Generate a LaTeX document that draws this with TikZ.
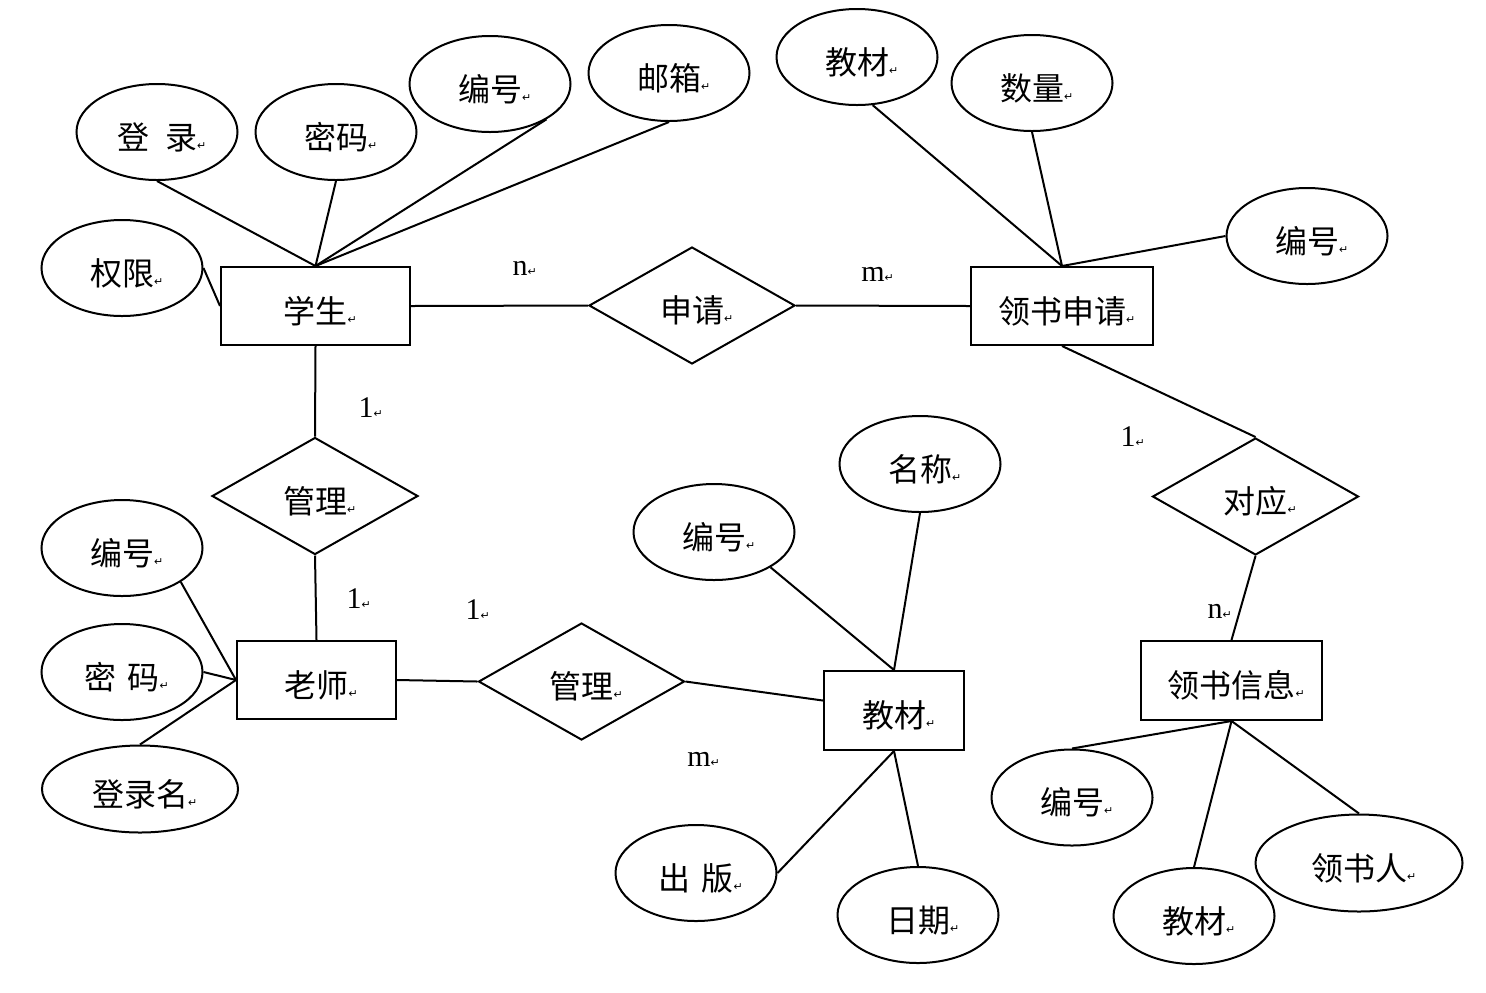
\documentclass[tikz,border=0pt]{standalone}
\usepackage{fontspec}
\newfontfamily\cjk{Noto Sans CJK SC}
\newfontfamily\dejavu{DejaVu Sans}
\newfontfamily\tms{Liberation Serif}
\usetikzlibrary{shapes.geometric}
\newcommand{\retmark}{{\dejavu\fontsize{5.5}{5.5}\selectfont ↵}}
\newcommand{\zh}[1]{\raisebox{-8.5pt}[0pt][0pt]{#1\rlap{\retmark}}}
\newcommand{\cardtext}[1]{#1\rlap{\retmark}}
\tikzset{
  zhfont/.style={font=\cjk\fontsize{16}{16}\selectfont},
  attr/.style={ellipse, draw, minimum width=80.5pt, minimum height=48pt, inner sep=0pt, zhfont},
  ent/.style={rectangle, draw, minimum height=39pt, inner sep=0pt, zhfont},
  rel/.style={diamond, draw, aspect=1.76, minimum width=103pt, minimum height=58.5pt, inner sep=0pt, zhfont},
  card/.style={font=\tms\fontsize{15}{15}\selectfont, inner sep=0pt}
}
\begin{document}
\begin{tikzpicture}[x=0.5pt, y=-0.5pt, line width=1pt]
\useasboundingbox (0,0) rectangle (1486,992);
% entities
\node[ent, minimum width=94.5pt] (stu) at (315.5,306) {\zh{学生}};
\node[ent, minimum width=91pt] (lsq) at (1062,306) {\zh{领书申请}};
\node[ent, minimum width=79.5pt] (tea) at (316.5,680) {\zh{老师}};
\node[ent, minimum width=70pt, minimum height=39.5pt] (jc) at (894,710.5) {\zh{教材}};
\node[ent, minimum width=90.5pt, minimum height=39.5pt] (lsx) at (1231.5,680.5) {\zh{领书信息}};
% relations
\node[rel] (sq) at (692,305.5) {\zh{申请}};
\node[rel] (gl1) at (315,496) {\zh{管理}};
\node[rel] (gl2) at (581.5,681.5) {\zh{管理}};
\node[rel] (dy) at (1255.5,496.5) {\zh{对应}};
% attributes of student
\node[attr] (deng) at (157,132) {\zh{登\hspace{0.5em}录}};
\node[attr] (mima1) at (336,132) {\zh{密码}};
\node[attr] (bh1) at (490,84) {\zh{编号}};
\node[attr] (youxiang) at (669,73) {\zh{邮箱}};
\node[attr] (quanxian) at (122,268) {\zh{权限}};
% attributes of application
\node[attr] (jc1) at (857,57) {\zh{教材}};
\node[attr] (sl) at (1032,83) {\zh{数量}};
\node[attr] (bh2) at (1307,236) {\zh{编号}};
% attributes of teacher
\node[attr] (bh3) at (122,548) {\zh{编号}};
\node[attr] (mima2) at (122,672) {\zh{密\hspace{0.35em}码}};
\node[attr, minimum width=98pt, minimum height=43.5pt] (dlm) at (140,789) {\zh{登录名}};
% attributes of textbook
\node[attr] (bh4) at (714,532) {\zh{编号}};
\node[attr] (mc) at (920,464) {\zh{名称}};
\node[attr] (cb) at (696,873) {\zh{出\hspace{0.35em}版}};
\node[attr] (rq) at (918,915) {\zh{日期}};
% attributes of info
\node[attr] (bh5) at (1072,797.5) {\zh{编号}};
\node[attr] (jc2) at (1194,916) {\zh{教材}};
\node[attr, minimum width=103.5pt, minimum height=48.5pt] (lsr) at (1359,863) {\zh{领书人}};
% cardinalities
\node[card] (c1) at (520,268) {\cardtext{n}};
\node[card] (c2) at (873,274) {\cardtext{m}};
\node[card] (c3) at (366,408) {\cardtext{1}};
\node[card] (c4) at (354,599) {\cardtext{1}};
\node[card] (c5) at (473,610) {\cardtext{1}};
\node[card] (c6) at (699,759) {\cardtext{m}};
\node[card] (c7) at (1128,437) {\cardtext{1}};
\node[card] (c8) at (1215,611) {\cardtext{n}};
% connectors
\draw (deng.south) -- (stu.north);
\draw (mima1.south) -- (stu.north);
\draw (bh1.-32) -- (stu.north);
\draw (youxiang.south) -- (stu.north);
\draw (quanxian.east) -- (stu.west);
\draw (stu.east) -- (sq.west);
\draw (sq.east) -- (lsq.west);
\draw (jc1.-72) -- (lsq.north);
\draw (sl.south) -- (lsq.north);
\draw (bh2.west) -- (lsq.north);
\draw (lsq.south) -- (dy.north);
\draw (dy.south) -- (lsx.north);
\draw (stu.south) -- (gl1.north);
\draw (gl1.south) -- (tea.north);
\draw (bh3.-30) -- (tea.west);
\draw (mima2.east) -- (tea.west);
\draw (dlm.north) -- (tea.west);
\draw (tea.east) -- (gl2.west);
\draw (gl2.east) -- (jc.172);
\draw (bh4.-32) -- (jc.north);
\draw (mc.south) -- (jc.north);
\draw (cb.east) -- (jc.south);
\draw (rq.north) -- (jc.south);
\draw (lsx.south) -- (bh5.north);
\draw (lsx.south) -- (jc2.north);
\draw (lsx.south) -- (lsr.north);
\end{tikzpicture}
\end{document}
